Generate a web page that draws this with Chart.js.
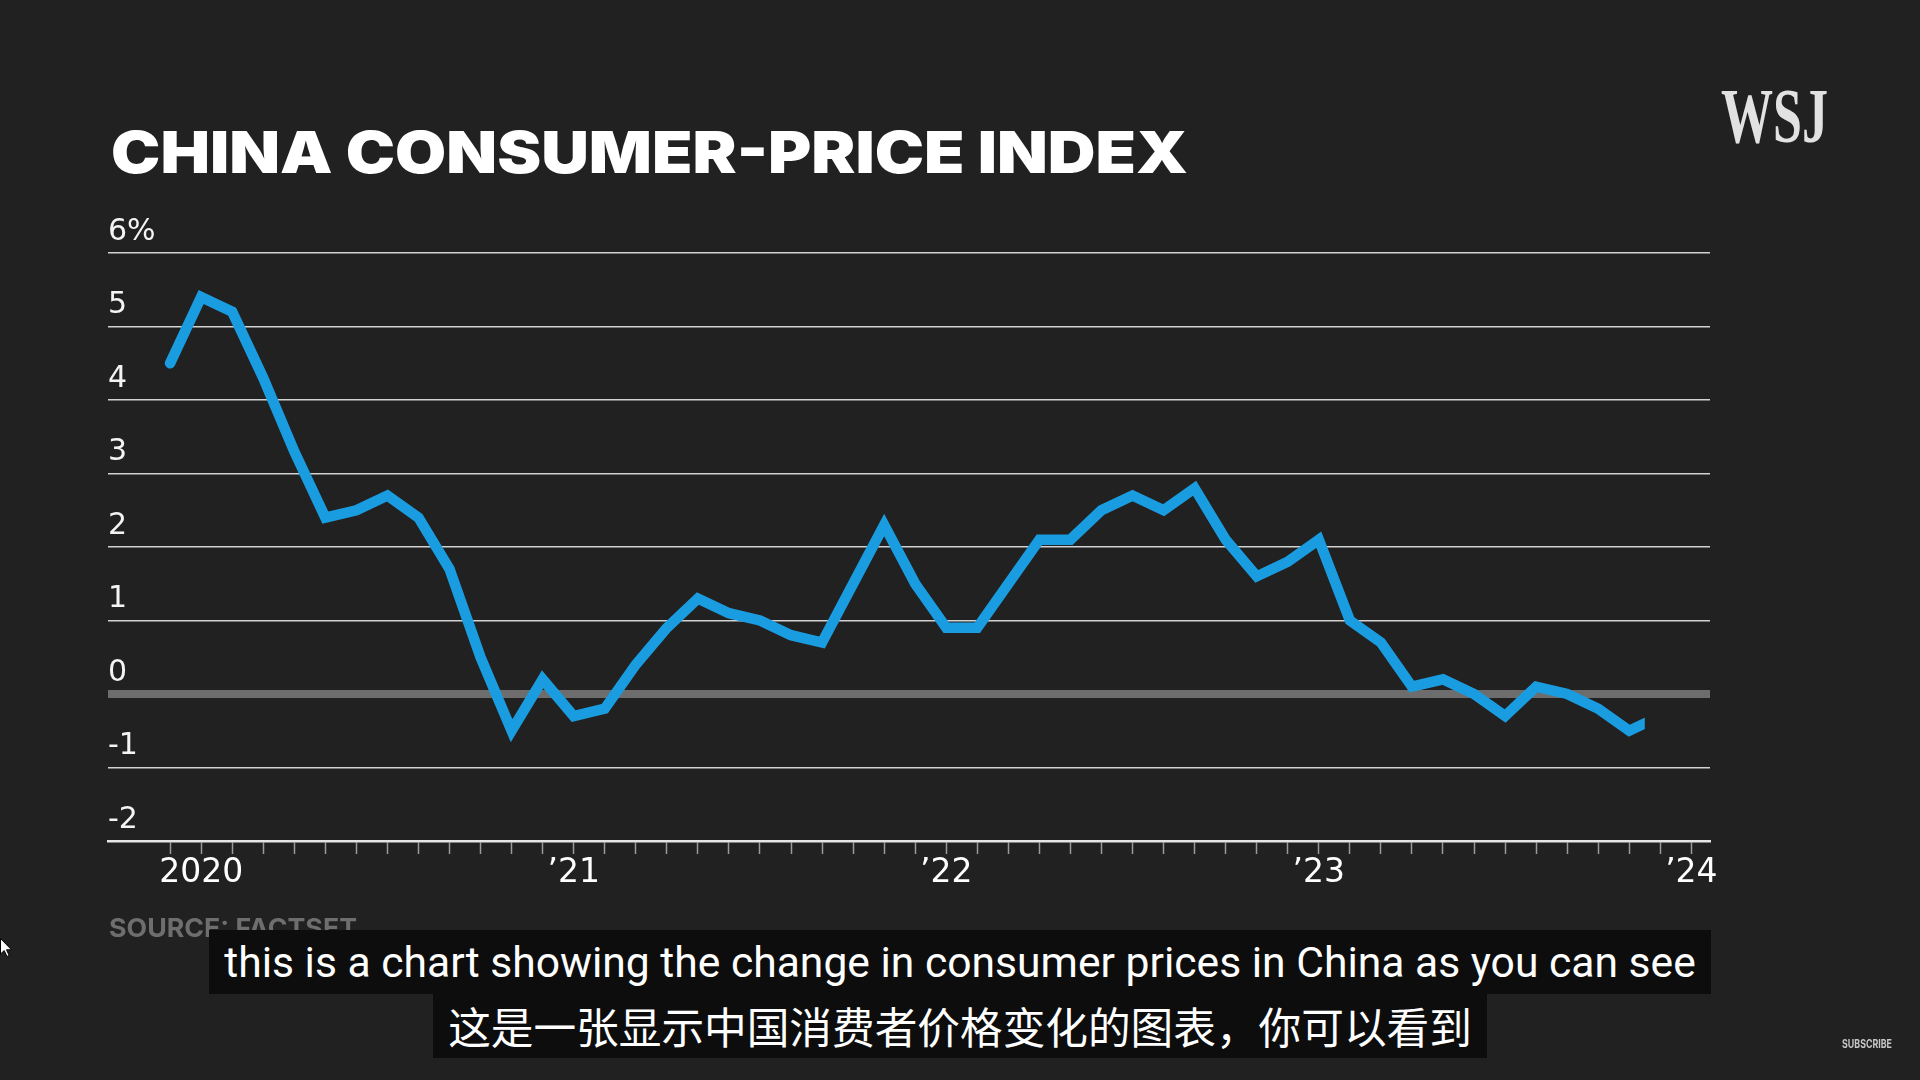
<!DOCTYPE html>
<html><head><meta charset="utf-8">
<script src="https://cdn.jsdelivr.net/npm/chart.js@4.4.1/dist/chart.umd.min.js"></script>
<style>
html,body{margin:0;padding:0;background:#212121;}
#stage{position:relative;width:1920px;height:1080px;overflow:hidden;background:#212121;}
#chart{position:absolute;left:0;top:0;width:1920px;height:1080px;}
.t{position:absolute;white-space:nowrap;line-height:1;transform-origin:0 0;}
#title{left:111px;top:123px;font-family:Inter;font-weight:900;font-size:58px;color:#ffffff;}
#logo{left:1721px;top:77px;font-family:'Liberation Serif';font-weight:bold;font-size:78px;color:#e2e2e2;}
#source{left:109px;top:914.5px;font-family:Inter;font-weight:700;font-size:26px;color:#6e6e6e;}
#subs{position:absolute;left:0;top:930px;width:1920px;}
.row{height:64px;text-align:center;}
.cap{display:inline-block;height:64px;line-height:64px;background:#0d0d0d;color:#ffffff;padding:0 15px;vertical-align:top;white-space:nowrap;}
#en{font-family:Roboto;font-size:40px;}
#zh{font-family:'Noto Sans CJK SC';font-size:42px;}
#subscribe{left:1842px;top:1038px;font-family:Inter;font-weight:700;font-size:12px;color:#c6c6c6;}
#cursor{position:absolute;left:0;top:938px;}
</style></head>
<body>
<div id="stage">
  <canvas id="chart" width="1920" height="1080"></canvas>
  <div class="t" id="title">CHINA CONSUMER-PRICE INDEX</div>
  <div class="t" id="logo">WSJ</div>
  <div class="t" id="source">SOURCE: FACTSET</div>
  <div id="subs">
    <div class="row"><span class="cap" id="en">this is a chart showing the change in consumer prices in China as you can see</span></div>
    <div class="row"><span class="cap" id="zh">这是一张显示中国消费者价格变化的图表，你可以看到</span></div>
  </div>
  <div class="t" id="subscribe">SUBSCRIBE</div>
  <svg id="cursor" width="14" height="20" viewBox="0 0 14 20"><path d="M0.5 0.5 L0.5 16 L4.2 12.6 L7 18.5 L9.2 17.5 L6.5 11.8 L11.5 11.8 Z" fill="#ffffff" stroke="#000" stroke-width="1"/></svg>
</div>
<script>
// ---- data ----
const months = ['2019-12',
  '2020-01','2020-02','2020-03','2020-04','2020-05','2020-06','2020-07','2020-08','2020-09','2020-10','2020-11','2020-12',
  '2021-01','2021-02','2021-03','2021-04','2021-05','2021-06','2021-07','2021-08','2021-09','2021-10','2021-11','2021-12',
  '2022-01','2022-02','2022-03','2022-04','2022-05','2022-06','2022-07','2022-08','2022-09','2022-10','2022-11','2022-12',
  '2023-01','2023-02','2023-03','2023-04','2023-05','2023-06','2023-07','2023-08','2023-09','2023-10','2023-11','2023-12',
  '2024-01'];
const cpi = [4.5,
  5.4, 5.2, 4.3, 3.3, 2.4, 2.5, 2.7, 2.4, 1.7, 0.5, -0.5, 0.2,
  -0.3, -0.2, 0.4, 0.9, 1.3, 1.1, 1.0, 0.8, 0.7, 1.5, 2.3, 1.5,
  0.9, 0.9, 1.5, 2.1, 2.1, 2.5, 2.7, 2.5, 2.8, 2.1, 1.6, 1.8,
  2.1, 1.0, 0.7, 0.1, 0.2, 0.0, -0.3, 0.1, 0.0, -0.2, -0.5, -0.3];
const yearTickMonths = ['2020-01','2021-01','2022-01','2023-01','2024-01'];
const yearTickLabels = ['2020','\u201921','\u201922','\u201923','\u201924'];
const yTickValues = [-2,-1,0,1,2,3,4,5,6];
const yTickLabels = ['-2','-1','0','1','2','3','4','5','6%'];
// the video frame catches the line mid-draw, between Nov and Dec 2023
const revealMonth = 47.5;

// ---- chart ----
const revealPlugin = {
  id: 'reveal',
  beforeDatasetDraw(chart) {
    const x = chart.scales.x.getPixelForValue(revealMonth);
    const ctx = chart.ctx;
    ctx.save();
    ctx.beginPath();
    ctx.rect(0, 0, x, chart.height);
    ctx.clip();
  },
  afterDatasetDraw(chart) { chart.ctx.restore(); }
};

new Chart(document.getElementById('chart'), {
  type: 'line',
  data: {
    datasets: [{
      data: cpi.map((v, i) => ({x: i, y: v})),
      borderColor: '#1a9de0',
      borderWidth: 10.5,
      pointRadius: 0,
      tension: 0,
      borderJoinStyle: 'miter',
      borderCapStyle: 'round',
      fill: false
    }]
  },
  options: {
    responsive: false,
    animation: false,
    events: [],
    layout: { padding: { left: 108, right: 210, top: 253, bottom: 159 } },
    plugins: { legend: { display: false }, tooltip: { enabled: false }, title: { display: false } },
    scales: {
      x: {
        type: 'linear',
        min: -2,
        max: 49.6,
        afterFit: s => { s.height = 80; },
        afterBuildTicks: s => { s.ticks = months.map((m, i) => ({ value: i })); },
        grid: { drawOnChartArea: false, drawTicks: true, tickLength: 13, tickColor: '#9a9a9a', tickWidth: 1.5 },
        border: { display: true, color: '#e6e6e6', width: 2.5 },
        ticks: {
          autoSkip: false, maxRotation: 0, minRotation: 0, padding: 0,
          color: '#ffffff',
          font: { family: 'DejaVu Sans', size: 33 },
          callback: (v) => {
            const k = yearTickMonths.indexOf(months[v]);
            return k >= 0 ? yearTickLabels[k] : '';
          }
        }
      },
      y: {
        min: -2,
        max: 6,
        position: 'left',
        afterFit: s => { s.width = 0; },
        afterBuildTicks: s => { s.ticks = yTickValues.map(v => ({ value: v })); },
        border: { display: false },
        grid: {
          drawTicks: false,
          color: c => (c.tick && c.tick.value === 0) ? '#6d6d6d' : '#d2d2d2',
          lineWidth: c => (c.tick && c.tick.value === 0) ? 8 : 1.5
        },
        ticks: {
          mirror: true, padding: 0, crossAlign: 'near', labelOffset: -21,
          color: '#f4f4f4',
          font: { family: 'DejaVu Sans', size: 30 },
          callback: (v) => { const k = yTickValues.indexOf(v); return k >= 0 ? yTickLabels[k] : ''; }
        }
      }
    }
  },
  plugins: [revealPlugin]
});

// ---- text fitting ----
function fitX(id, target) {
  const el = document.getElementById(id);
  const w = el.getBoundingClientRect().width;
  el.style.transform = 'scaleX(' + (target / w) + ')';
}
function fitFont(id, target, base) {
  const el = document.getElementById(id);
  const w = el.getBoundingClientRect().width - 30;
  el.style.fontSize = (base * target / w) + 'px';
}
fitX('title', 1077);
fitX('logo', 107);
fitX('source', 248);
fitX('subscribe', 50);
fitFont('en', 1472, 40);
fitFont('zh', 1024, 42);
</script>
</body></html>
